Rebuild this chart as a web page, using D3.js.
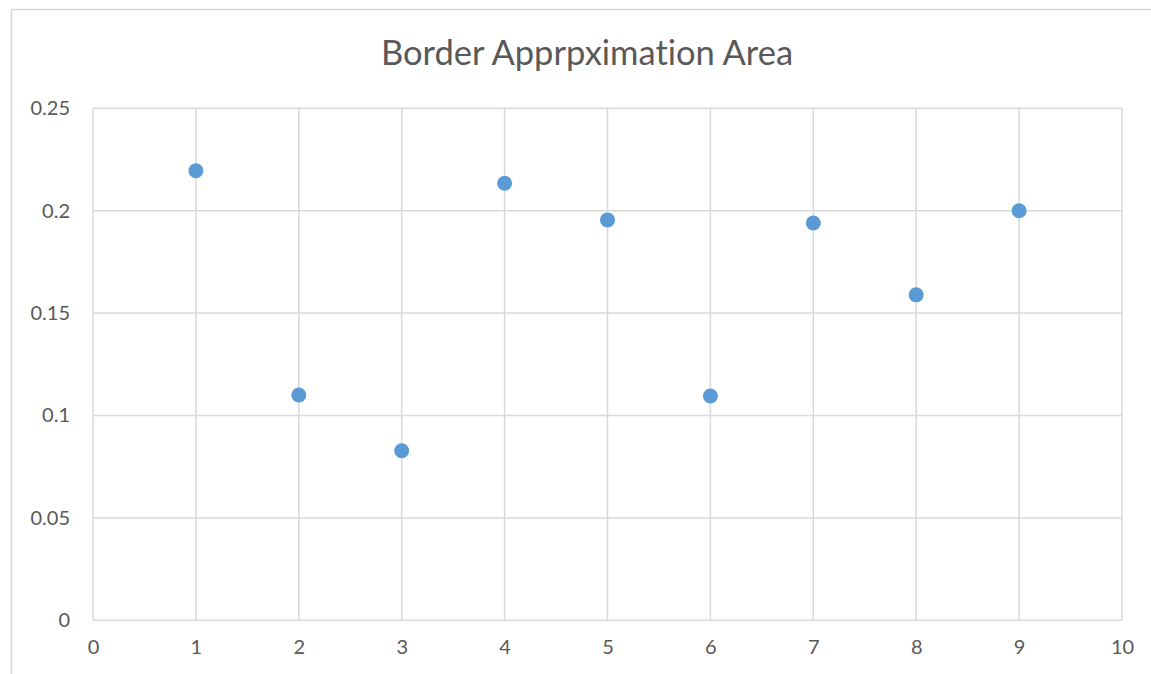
<!DOCTYPE html>
<html>
<head>
<meta charset="utf-8">
<script src="https://cdn.jsdelivr.net/npm/d3@7/dist/d3.min.js"></script>
<style>
  html, body { margin: 0; padding: 0; background: #fff; }
  svg { display: block; }
  text { font-family: Lato, "Open Sans", sans-serif; fill: #595959; font-variant-ligatures: none; font-feature-settings: "liga" 0, "clig" 0; }
</style>
</head>
<body>
<svg id="chart" width="1151" height="674"></svg>
<script>
const title = "Border Apprpximation Area";
const xValues = [1, 2, 3, 4, 5, 6, 7, 8, 9];
const yValues = [0.2195, 0.110, 0.0828, 0.2134, 0.1955, 0.1095, 0.194, 0.1589, 0.200];
const xTicks = [0, 1, 2, 3, 4, 5, 6, 7, 8, 9, 10];
const yTicks = [0, 0.05, 0.1, 0.15, 0.2, 0.25];

const margin = { left: 93, right: 1122, top: 108.3, bottom: 620.3 };
const svg = d3.select("#chart");

// chart frame
svg.append("rect")
  .attr("x", 11.5).attr("y", 9.5)
  .attr("width", 1300).attr("height", 800)
  .attr("fill", "none").attr("stroke", "#d9d9d9").attr("stroke-width", 1.5);

const x = d3.scaleLinear().domain([0, 10]).range([margin.left, margin.right]);
const y = d3.scaleLinear().domain([0, 0.25]).range([margin.bottom, margin.top]);

// gridlines
svg.append("g")
  .selectAll("line.v").data(xTicks).join("line")
  .attr("x1", d => x(d)).attr("x2", d => x(d))
  .attr("y1", y(0)).attr("y2", y(0.25))
  .attr("stroke", "#d9d9d9").attr("stroke-width", 1.5);
svg.append("g")
  .selectAll("line.h").data(yTicks).join("line")
  .attr("x1", x(0)).attr("x2", x(10))
  .attr("y1", d => y(d)).attr("y2", d => y(d))
  .attr("stroke", "#d9d9d9").attr("stroke-width", 1.5);

// axis labels
const xAxis = d3.axisBottom(x).tickValues(xTicks).tickSize(0).tickPadding(20).tickFormat(d3.format("d"));
const gx = svg.append("g").attr("transform", `translate(0,${y(0)})`).call(xAxis);
gx.select(".domain").remove();
gx.selectAll("text").attr("font-size", 20).style("font-family", "Lato, 'Open Sans', sans-serif").attr("fill", "#595959");

const yAxis = d3.axisLeft(y).tickValues(yTicks).tickSize(0).tickPadding(23).tickFormat(d => String(d));
const gy = svg.append("g").attr("transform", `translate(${x(0)},0)`).call(yAxis);
gy.select(".domain").remove();
gy.selectAll("text").attr("font-size", 20).style("font-family", "Lato, 'Open Sans', sans-serif").attr("fill", "#595959");

// title
svg.append("text")
  .attr("x", 587).attr("y", 65)
  .attr("text-anchor", "middle")
  .attr("font-size", 34.5)
  .text(title);

// points
svg.append("g")
  .selectAll("circle").data(xValues.map((d, i) => [d, yValues[i]])).join("circle")
  .attr("cx", d => x(d[0])).attr("cy", d => y(d[1]))
  .attr("r", 7.5)
  .attr("fill", "#5b9bd5");
</script>
</body>
</html>
